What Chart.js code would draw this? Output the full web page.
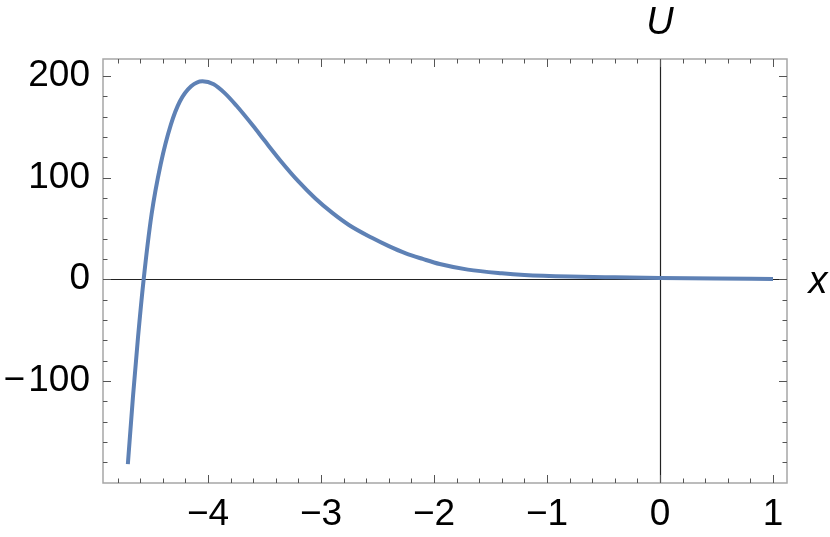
<!DOCTYPE html>
<html>
<head>
<meta charset="utf-8">
<script src="https://cdn.jsdelivr.net/npm/chart.js@4/dist/chart.umd.min.js"></script>
<style>
  html, body { margin: 0; padding: 0; background: #fff; }
  #wrap { width: 830px; height: 537px; position: relative; }
</style>
</head>
<body>
<div id="wrap"><canvas id="potChart" width="830" height="537"></canvas></div>
<script>
// values
const xValues = [-4.71, -4.665, -4.62, -4.57, -4.5, -4.42, -4.33, -4.25, -4.15, -4.05,
    -3.95, -3.85, -3.75, -3.6, -3.5, -3.35, -3.2, -3.05, -2.9, -2.75, -2.55,
    -2.4, -2.25, -2.1, -1.95, -1.7, -1.4, -1.2, -0.8, -0.4, 0, 0.5, 1.0];
const uValues = [-182, -116, -57, 0, 64, 113, 152, 175, 190, 195,
    192, 183, 171, 150.8, 136.5, 115.5, 96.3, 79.5, 65.3, 53.2, 40.8,
    32.6, 25.5, 20, 15, 9.5, 5.9, 4.3, 2.7, 1.9, 1.3, 0.7, 0.35];

const xTickValues = [-4, -3, -2, -1, 0, 1];
const yTickValues = [-100, 0, 100, 200];

const fmt = (v, gap) => (v < 0 ? '\u2212' + gap + Math.abs(v) : String(v));

const frameTicks = {
    id: 'frameTicks',
    beforeDatasetsDraw(chart) {
        const { ctx, chartArea: a, scales: { x, y } } = chart;
        ctx.save();
        ctx.strokeStyle = '#222';
        ctx.lineWidth = 1.2;
        ctx.beginPath();
        const y0 = Math.round(y.getPixelForValue(0)) + 0.5;
        const x0 = Math.round(x.getPixelForValue(0)) + 0.5;
        ctx.moveTo(a.left, y0); ctx.lineTo(a.right, y0);
        ctx.moveTo(x0, a.top); ctx.lineTo(x0, a.bottom);
        ctx.stroke();
        ctx.restore();
    },
    afterDraw(chart) {
        const { ctx, chartArea: a, scales: { x, y } } = chart;
        ctx.save();
        ctx.strokeStyle = '#a6a6a6';
        ctx.lineWidth = 1.5;
        ctx.strokeRect(a.left, a.top, a.right - a.left, a.bottom - a.top);

        ctx.strokeStyle = '#555';
        ctx.lineWidth = 1;
        ctx.beginPath();
        // x ticks, every 0.2, majors on integers
        for (let i = -24; i <= 5; i++) {
            const v = i / 5;
            const px = Math.round(x.getPixelForValue(v)) + 0.5;
            if (px < a.left + 1 || px > a.right - 1) continue;
            const len = i % 5 === 0 ? 8 : 4.5;
            ctx.moveTo(px, a.bottom); ctx.lineTo(px, a.bottom - len);
            ctx.moveTo(px, a.top); ctx.lineTo(px, a.top + len);
        }
        // y ticks, every 20, majors on hundreds
        for (let i = -10; i <= 10; i++) {
            const v = i * 20;
            const py = Math.round(y.getPixelForValue(v)) + 0.5;
            if (py < a.top + 1 || py > a.bottom - 1) continue;
            const len = i % 5 === 0 ? 8 : 4.5;
            ctx.moveTo(a.left, py); ctx.lineTo(a.left + len, py);
            ctx.moveTo(a.right, py); ctx.lineTo(a.right - len, py);
        }
        ctx.stroke();

        ctx.fillStyle = '#000';
        ctx.font = 'italic 38px "Liberation Sans", Arial, sans-serif';
        ctx.textAlign = 'center';
        ctx.textBaseline = 'middle';
        ctx.fillText('U', x.getPixelForValue(0), 23);
        ctx.fillText('x', a.right + 31, y.getPixelForValue(0) + 3);
        ctx.restore();
    }
};

const ctx = document.getElementById('potChart').getContext('2d');
new Chart(ctx, {
    type: 'line',
    data: {
        datasets: [{
            data: xValues.map((v, i) => ({ x: v, y: uValues[i] })),
            borderColor: '#5e81b5',
            borderWidth: 4,
            pointRadius: 0,
            cubicInterpolationMode: 'monotone',
            fill: false
        }]
    },
    options: {
        responsive: false,
        animation: false,
        layout: { padding: { left: 0, top: 59, right: 43, bottom: 0 } },
        plugins: { legend: { display: false }, tooltip: { enabled: false } },
        scales: {
            x: {
                type: 'linear',
                min: -4.93,
                max: 1.124,
                afterBuildTicks: s => { s.ticks = xTickValues.map(v => ({ value: v })); },
                afterFit: s => { s.height = 54; },
                grid: { display: false, drawTicks: false },
                border: { display: false },
                ticks: {
                    autoSkip: false,
                    maxRotation: 0,
                    padding: 10,
                    color: '#000',
                    font: { family: '"Liberation Sans", Arial, sans-serif', size: 37 },
                    callback: v => fmt(v, '')
                }
            },
            y: {
                min: -200.5,
                max: 216.8,
                afterBuildTicks: s => { s.ticks = yTickValues.map(v => ({ value: v })); },
                afterFit: s => { s.width = 103; },
                grid: { display: false, drawTicks: false },
                border: { display: false },
                ticks: {
                    autoSkip: false,
                    padding: 13,
                    color: '#000',
                    font: { family: '"Liberation Sans", Arial, sans-serif', size: 37 },
                    callback: v => fmt(v, '\u200A')
                }
            }
        }
    },
    plugins: [frameTicks]
});
</script>
</body>
</html>
